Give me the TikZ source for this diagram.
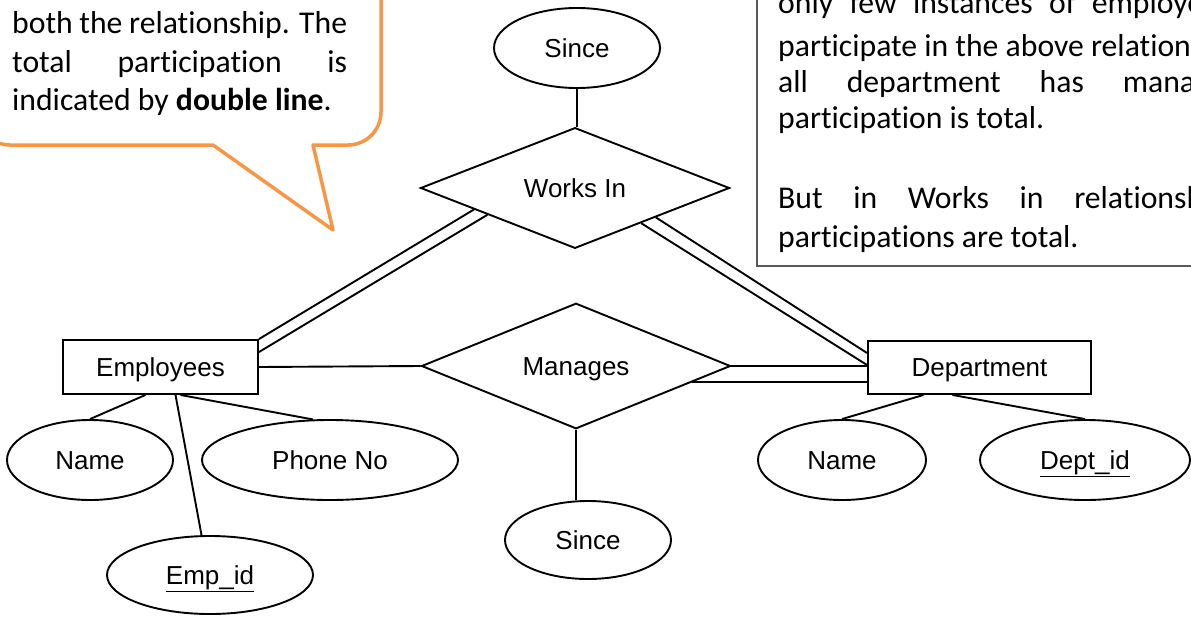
\documentclass[tikz,border=0pt]{standalone}
\usepackage{fontspec}
\setmainfont{Liberation Sans}
\newfontfamily\calfont[Ligatures=NoCommon]{Carlito}
\usetikzlibrary{shapes.geometric,calc}
\definecolor{orng}{RGB}{247,150,70}
\definecolor{boxgray}{RGB}{89,89,89}
\begin{document}
\begin{tikzpicture}[x=1pt,y=-1pt,
  er/.style={line width=1.9pt, draw=black},
  diagfont/.style={font=\fontsize{26}{30}\selectfont, text height=18.6pt, text depth=0pt},
  attr/.style={ellipse, draw, line width=1.9pt, inner sep=0pt, minimum height=80pt, diagfont},
  ent/.style={rectangle, draw, line width=1.9pt, inner sep=0pt, diagfont},
  rel/.style={diamond, draw, line width=1.9pt, inner sep=0pt, minimum width=309pt, minimum height=105pt, diagfont},
  ptext/.style={anchor=base west, inner sep=0pt, font=\calfont\fontsize{31.7}{38}\selectfont},
  callout/.style={draw=orng, line width=3.5pt, line join=round},
  boxline/.style={draw=boxgray, line width=1.5pt}
]
\useasboundingbox (0,0) rectangle (1191,616);
\clip (0,0) rectangle (1191,616);

% callout (left)
\draw[callout] (381,-20) -- (381,112) .. controls (381,130.2) and (366.2,145) .. (348,145)
  -- (313,145) -- (333,230) -- (213,145) -- (10,145)
  .. controls (-8.2,145) and (-23,130.2) .. (-23,112) -- (-23,-20);
\node[ptext] (c1) at (12,33.5) {\makebox[335pt][s]{both the relationship. The}};
\node[ptext] (c2) at (12,72) {\makebox[335pt][s]{total participation is}};
\node[ptext] (c3) at (12,110.5) {indicated by \textbf{double line}.};

% text box (right)
\draw[boxline] (757,-20) -- (757,266) -- (1220,266);
\node[ptext] (r0) at (778,13) {\makebox[425pt][s]{only few instances of employe}};
\node[ptext] (r1) at (778,56.5) {participate in the above relation};
\node[ptext] (r2) at (778,92.5) {\makebox[417pt][s]{all department has mana}};
\node[ptext] (r3) at (778,128.5) {participation is total.};
\node[ptext] (r4) at (778,208) {\makebox[425pt][s]{But in Works in relationsh}};
\node[ptext] (r5) at (778,247) {participations are total.};

% ER nodes
\node[attr, minimum width=166pt] (since1) at (577,48) {Since};
\node[rel] (works) at (575,188) {Works In};
\node[rel] (man) at (576,366) {Manages};
\node[attr, minimum width=166pt, minimum height=78pt] (since2) at (588,540) {Since};
\node[ent, minimum width=195pt, minimum height=54pt] (emp) at (160.5,367) {Employees};
\node[ent, minimum width=223pt, minimum height=53pt] (dept) at (979.5,367.5) {Department};
\node[attr, minimum width=166pt] (ename) at (90,460) {Name};
\node[attr, minimum width=256pt] (phone) at (330,460) {Phone No};
\node[attr, minimum width=206pt, minimum height=78pt] (eid) at (210,575) {\underline{Emp\_id}};
\node[attr, minimum width=168pt] (dname) at (842,460) {Name};
\node[attr, minimum width=210pt] (did) at (1085,460) {\underline{Dept\_id}};

% connectors
\draw[er] (since1) -- (since1 |- works.north);
\draw[er] (man.south) -- (man.south |- since2.north);
\draw[er] (emp.east) -- (man.west);
\draw[er] (emp.north east) -- (works.192);
\draw[er] ([yshift=-13pt]emp.north east) -- (works.197);
\draw[er] (works.332) -- ([yshift=2.5pt]dept.west);
\draw[er] (works.340) -- ([yshift=14.5pt]dept.west);
\draw[er] (man.east) -- (man.east -| dept.west);
\draw[er] (man.352) -- (man.352 -| dept.west);
\draw[er] ([xshift=-15pt]emp.south) -- (ename.north);
\draw[er] ([xshift=15pt]emp.south) -- (eid.102);
\draw[er] ([xshift=20pt]emp.south) -- (phone.113);
\draw[er] ([xshift=-56pt]dept.south) -- (dname.north);
\draw[er] ([xshift=-27pt]dept.south) -- (did.north);
\end{tikzpicture}
\end{document}
